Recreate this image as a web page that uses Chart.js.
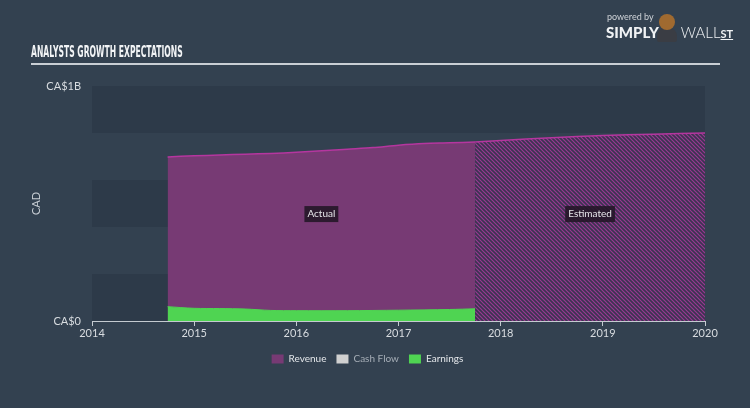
<!DOCTYPE html>
<html>
<head>
<meta charset="utf-8">
<script src="https://cdn.jsdelivr.net/npm/chart.js@4/dist/chart.umd.min.js"></script>
<style>
  html, body { margin: 0; padding: 0; background: #334150; }
  #wrap { position: relative; width: 750px; height: 408px; overflow: hidden; }
  #myChart { position: absolute; left: 0; top: 0; }
  .title {
    position: absolute; left: 31px; top: 43px;
    font-family: "DejaVu Sans", sans-serif;
    font-weight: bold; font-size: 15px; color: #f2f4f6;
    transform: scaleX(0.51); transform-origin: left top; white-space: nowrap;
  }
  .rule { position: absolute; left: 31px; top: 63px; width: 689px; height: 2px; background: #c9ced4; }
  .logo { position: absolute; left: 606px; top: 8px; color: #f0f2f4; font-family: "Lato", sans-serif; }
  .logo .pb { position: absolute; left: 1px; top: 3px; font-size: 9px; color: #cfd3d8; white-space: nowrap; }
  .logo .name { position: absolute; left: 0; top: 15px; font-size: 15px; white-space: nowrap; }
  .logo .name b { font-weight: 900; }
  .logo .name span { font-weight: 300; margin-left: 22px; }
  .logo .name u { font-weight: 700; font-size: 11px; }
  .logo .head { position: absolute; left: 53px; top: 6px; width: 16px; height: 16px; border-radius: 8px; background: #a06a30; }
  .logo .body { position: absolute; left: 51px; top: 20px; width: 20px; height: 14px; border-radius: 8px 8px 2px 2px; background: #3a3d44; }
</style>
</head>
<body>
<div id="wrap">
  <canvas id="myChart" width="750" height="408"></canvas>
  <div class="title">ANALYSTS GROWTH EXPECTATIONS</div>
  <div class="rule"></div>
  <div class="logo">
    <div class="pb">powered by</div>
    <div class="body"></div>
    <div class="head"></div>
    <div class="name"><b>SIMPLY</b><span>WALL</span><u>ST</u></div>
  </div>
</div>
<script>
// 營收（實際）
const revenueYears = [2014.74, 2015, 2015.25, 2015.5, 2015.75, 2016, 2016.25, 2016.5, 2016.75, 2017, 2017.25, 2017.5, 2017.75];
const revenueValues = [0.698, 0.703, 0.706, 0.71, 0.713, 0.718, 0.724, 0.731, 0.738, 0.748, 0.755, 0.758, 0.762];

// 營收（預估）
const estimateYears = [2017.75, 2018, 2018.5, 2019, 2019.5, 2020];
const estimateValues = [0.762, 0.768, 0.78, 0.789, 0.795, 0.8];

// 盈餘（實際）
const earningsYears = [2014.74, 2015, 2015.25, 2015.5, 2015.75, 2016, 2016.5, 2017, 2017.5, 2017.75];
const earningsValues = [0.061, 0.054, 0.053, 0.051, 0.045, 0.044, 0.044, 0.046, 0.049, 0.052];

const xTicks = [2014, 2015, 2016, 2017, 2018, 2019, 2020];
const yTickLabels = { 0: "CA$0", 1: "CA$1B" };
const bandEdges = [0, 0.2, 0.4, 0.6, 0.8, 1.0];

const toPoints = (xs, ys) => xs.map((x, i) => ({ x: x, y: ys[i] }));

// 斜線填色
function makeHatch() {
  const c = document.createElement("canvas");
  c.width = 4;
  c.height = 4;
  const g = c.getContext("2d");
  g.fillStyle = "#3a3450";
  g.fillRect(0, 0, 4, 4);
  g.strokeStyle = "#9a3893";
  g.lineWidth = 1.2;
  g.beginPath();
  g.moveTo(-1, -1);
  g.lineTo(5, 5);
  g.moveTo(-1, 3);
  g.lineTo(1, 5);
  g.moveTo(3, -1);
  g.lineTo(5, 1);
  g.stroke();
  return document.querySelector("#myChart").getContext("2d").createPattern(c, "repeat");
}

const bandsPlugin = {
  id: "bands",
  beforeDatasetsDraw(chart) {
    const { ctx, chartArea, scales } = chart;
    ctx.save();
    for (let i = 0; i < bandEdges.length - 1; i += 2) {
      const top = scales.y.getPixelForValue(bandEdges[i + 1]);
      const bottom = scales.y.getPixelForValue(bandEdges[i]);
      ctx.fillStyle = "#2d3a49";
      ctx.fillRect(chartArea.left, top, chartArea.right - chartArea.left, bottom - top);
    }
    ctx.restore();
  },
};

const tagPlugin = {
  id: "tags",
  afterDatasetsDraw(chart) {
    const { ctx, scales } = chart;
    const tags = [
      { text: "Actual", x: (revenueYears[0] + revenueYears[revenueYears.length - 1]) / 2 },
      { text: "Estimated", x: (estimateYears[0] + estimateYears[estimateYears.length - 1]) / 2 },
    ];
    ctx.save();
    ctx.font = "10px Lato, sans-serif";
    ctx.textAlign = "center";
    ctx.textBaseline = "middle";
    tags.forEach((t) => {
      const px = scales.x.getPixelForValue(t.x);
      const py = scales.y.getPixelForValue(0.455);
      const w = ctx.measureText(t.text).width + 6;
      ctx.fillStyle = "rgba(34, 22, 38, 0.88)";
      ctx.fillRect(px - w / 2, py - 8, w, 16);
      ctx.fillStyle = "#e6e6ea";
      ctx.fillText(t.text, px, py);
    });
    ctx.restore();
  },
};

const ctx = document.querySelector("#myChart").getContext("2d");

new Chart(ctx, {
  type: "line",
  data: {
    datasets: [
      {
        label: "Revenue",
        data: toPoints(revenueYears, revenueValues),
        borderColor: "#b5369f",
        backgroundColor: "#773a74",
        borderWidth: 1.5,
        fill: "origin",
        tension: 0.3,
        pointRadius: 0,
        order: 1,
      },
      {
        label: "Cash Flow",
        data: [],
        borderColor: "#d0d0d0",
        backgroundColor: "#d0d0d0",
        pointRadius: 0,
        order: 2,
      },
      {
        label: "Earnings",
        data: toPoints(earningsYears, earningsValues),
        borderColor: "#4fd452",
        backgroundColor: "#4fd452",
        borderWidth: 1,
        fill: "origin",
        tension: 0.3,
        pointRadius: 0,
        order: 0,
      },
      {
        label: "Revenue estimate",
        data: toPoints(estimateYears, estimateValues),
        borderColor: "#b5369f",
        backgroundColor: makeHatch(),
        borderWidth: 1.5,
        fill: "origin",
        tension: 0.3,
        pointRadius: 0,
        order: 1,
      },
    ],
  },
  options: {
    responsive: false,
    animation: false,
    layout: {
      padding: { top: 86, right: 45, bottom: 34, left: 30 },
    },
    plugins: {
      legend: {
        display: true,
        position: "bottom",
        labels: {
          boxWidth: 12,
          boxHeight: 9,
          padding: 10,
          font: { family: "Lato", size: 10 },
          filter: (item) => item.datasetIndex !== 3,
          generateLabels: (chart) =>
            chart.data.datasets.map((ds, i) => ({
              text: ds.label,
              fillStyle: ds.backgroundColor,
              strokeStyle: ds.backgroundColor,
              lineWidth: 0,
              fontColor: ds.label === "Cash Flow" ? "#a5adb6" : "#e4e7ea",
              datasetIndex: i,
              hidden: false,
            })),
        },
      },
      tooltip: { enabled: false },
    },
    scales: {
      x: {
        type: "linear",
        min: 2014,
        max: 2020,
        afterBuildTicks: (scale) => {
          scale.ticks = xTicks.map((v) => ({ value: v }));
        },
        afterFit: (scale) => {
          scale.height = 23;
        },
        ticks: {
          color: "#d8dce0",
          font: { family: "Lato", size: 11 },
          padding: 1,
          callback: (v) => String(v),
          maxRotation: 0,
        },
        grid: {
          drawOnChartArea: false,
          drawTicks: true,
          tickLength: 5,
          color: "#c4cad0",
        },
        border: { color: "#c4cad0", width: 1 },
      },
      y: {
        min: 0,
        max: 1,
        afterFit: (scale) => {
          scale.width = 62;
        },
        ticks: {
          stepSize: 0.2,
          color: "#d8dce0",
          font: { family: "Lato", size: 11 },
          padding: 3,
          callback: (v) => yTickLabels[v] || "",
        },
        grid: { display: false },
        border: { display: false },
        title: {
          display: true,
          text: "CAD",
          color: "#c8ced4",
          font: { family: "Lato", size: 11 },
          padding: 0,
        },
      },
    },
  },
  plugins: [bandsPlugin, tagPlugin],
});
</script>
</body>
</html>
